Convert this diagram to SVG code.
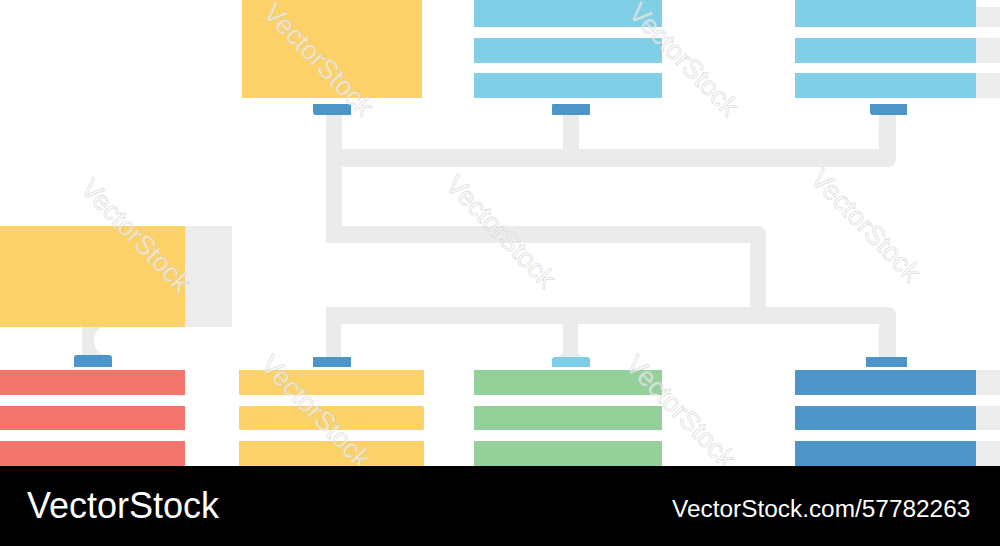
<svg xmlns="http://www.w3.org/2000/svg" width="1000" height="546" viewBox="0 0 1000 546">
<style>
.pipe{fill:#ebebeb}
.ext{fill:#ececec}
.yel{fill:#fcd268}
.cya{fill:#7fd0e6}
.red{fill:#f3756c}
.grn{fill:#94d19a}
.blu{fill:#4f96c8}
.tab{fill:#4d95c8}
.tab2{fill:#7ccfe7}
.wm{font-family:"Liberation Sans",Arial,sans-serif;font-size:27px;fill:#ffffff;fill-opacity:0.55;stroke:#cfcfcf;stroke-opacity:0.7;stroke-width:0.8}
.foot{font-family:"Liberation Sans",Arial,sans-serif;fill:#ffffff}
</style>
<rect width="1000" height="546" fill="#ffffff"/>

<g id="connectors">
  <path class="pipe" d="M326,115 H342 V149 H563 V115 H579 V149 H879 V115 H896 V158 Q896,167 887,167 H342 V226 H757 Q766,226 766,235 V307 H887 Q896,307 896,316 V357 H879 V324 H578 V350 Q578,357 585,357 H556 Q563,357 563,350 V324 H341 V357 H326 V307 H750 V243 H326 Z"/>
  <path class="pipe" d="M82,326 H103 Q94,332 94,340 Q94,350 103,355 H82 Z"/>
</g>

<g id="node-top-left">
  <rect class="yel" x="242" y="0" width="180" height="98"/>
  <path class="tab" d="M313,104 H351 V115 H316 Q313,115 313,112 Z"/>
</g>

<g id="node-top-middle">
  <rect class="cya" x="474" y="0" width="188" height="27"/>
  <rect class="cya" x="474" y="38" width="188" height="25"/>
  <rect class="cya" x="474" y="73" width="188" height="25"/>
  <rect class="tab" x="552" y="104" width="38" height="11" rx="1"/>
</g>

<g id="node-top-right">
  <rect class="ext" x="976" y="7" width="24" height="20"/>
  <rect class="ext" x="976" y="38" width="24" height="25"/>
  <rect class="ext" x="976" y="73" width="24" height="25"/>
  <rect class="cya" x="795" y="0" width="181" height="27"/>
  <rect class="cya" x="795" y="38" width="181" height="25"/>
  <rect class="cya" x="795" y="73" width="181" height="25"/>
  <path class="tab" d="M870,104 H907 V115 H873 Q870,115 870,112 Z"/>
</g>

<g id="node-left">
  <rect class="ext" x="185" y="226" width="47" height="101"/>
  <rect class="yel" x="0" y="226" width="185" height="101"/>
  <path class="tab" d="M74,367 V358 Q74,355 77,355 H109 Q112,355 112,358 V367 Z"/>
  <rect class="red" x="0" y="370" width="185" height="25"/>
  <rect class="red" x="0" y="406" width="185" height="24"/>
  <rect class="red" x="0" y="441" width="185" height="25"/>
</g>

<g id="node-bottom-left">
  <rect class="tab" x="313" y="357" width="38" height="10"/>
  <rect class="yel" x="239" y="370" width="185" height="25"/>
  <rect class="yel" x="239" y="406" width="185" height="24" rx="2"/>
  <rect class="yel" x="239" y="441" width="185" height="25"/>
</g>

<g id="node-bottom-middle">
  <path class="tab2" d="M552,367 V360 Q552,357 555,357 H587 Q590,357 590,360 V367 Z"/>
  <rect class="grn" x="474" y="370" width="188" height="25"/>
  <rect class="grn" x="474" y="406" width="188" height="24"/>
  <rect class="grn" x="474" y="441" width="188" height="25"/>
</g>

<g id="node-bottom-right">
  <rect class="ext" x="976" y="370" width="24" height="25"/>
  <rect class="ext" x="976" y="406" width="24" height="24"/>
  <rect class="ext" x="976" y="441" width="24" height="25"/>
  <rect class="tab" x="866" y="357" width="41" height="10"/>
  <rect class="blu" x="795" y="370" width="181" height="25"/>
  <rect class="blu" x="795" y="406" width="181" height="24"/>
  <rect class="blu" x="795" y="441" width="181" height="25"/>
</g>

<g id="watermarks">
  <text class="wm" transform="translate(262,14) rotate(46)">VectorStock</text>
  <text class="wm" transform="translate(627,14) rotate(46)">VectorStock</text>
  <text class="wm" transform="translate(79,190) rotate(46)">VectorStock</text>
  <text class="wm" transform="translate(444,186) rotate(46)">VectorStock</text>
  <text class="wm" transform="translate(809,180) rotate(46)">VectorStock</text>
  <text class="wm" transform="translate(259,366) rotate(46)">VectorStock</text>
  <text class="wm" transform="translate(624,366) rotate(46)">VectorStock</text>
</g>

<g id="footer">
  <rect x="0" y="466" width="1000" height="80" fill="#000000"/>
  <text class="foot" x="27" y="518" font-size="36">VectorStock</text>
  <text class="foot" x="672" y="517" font-size="24.4">VectorStock.com/57782263</text>
</g>
</svg>
